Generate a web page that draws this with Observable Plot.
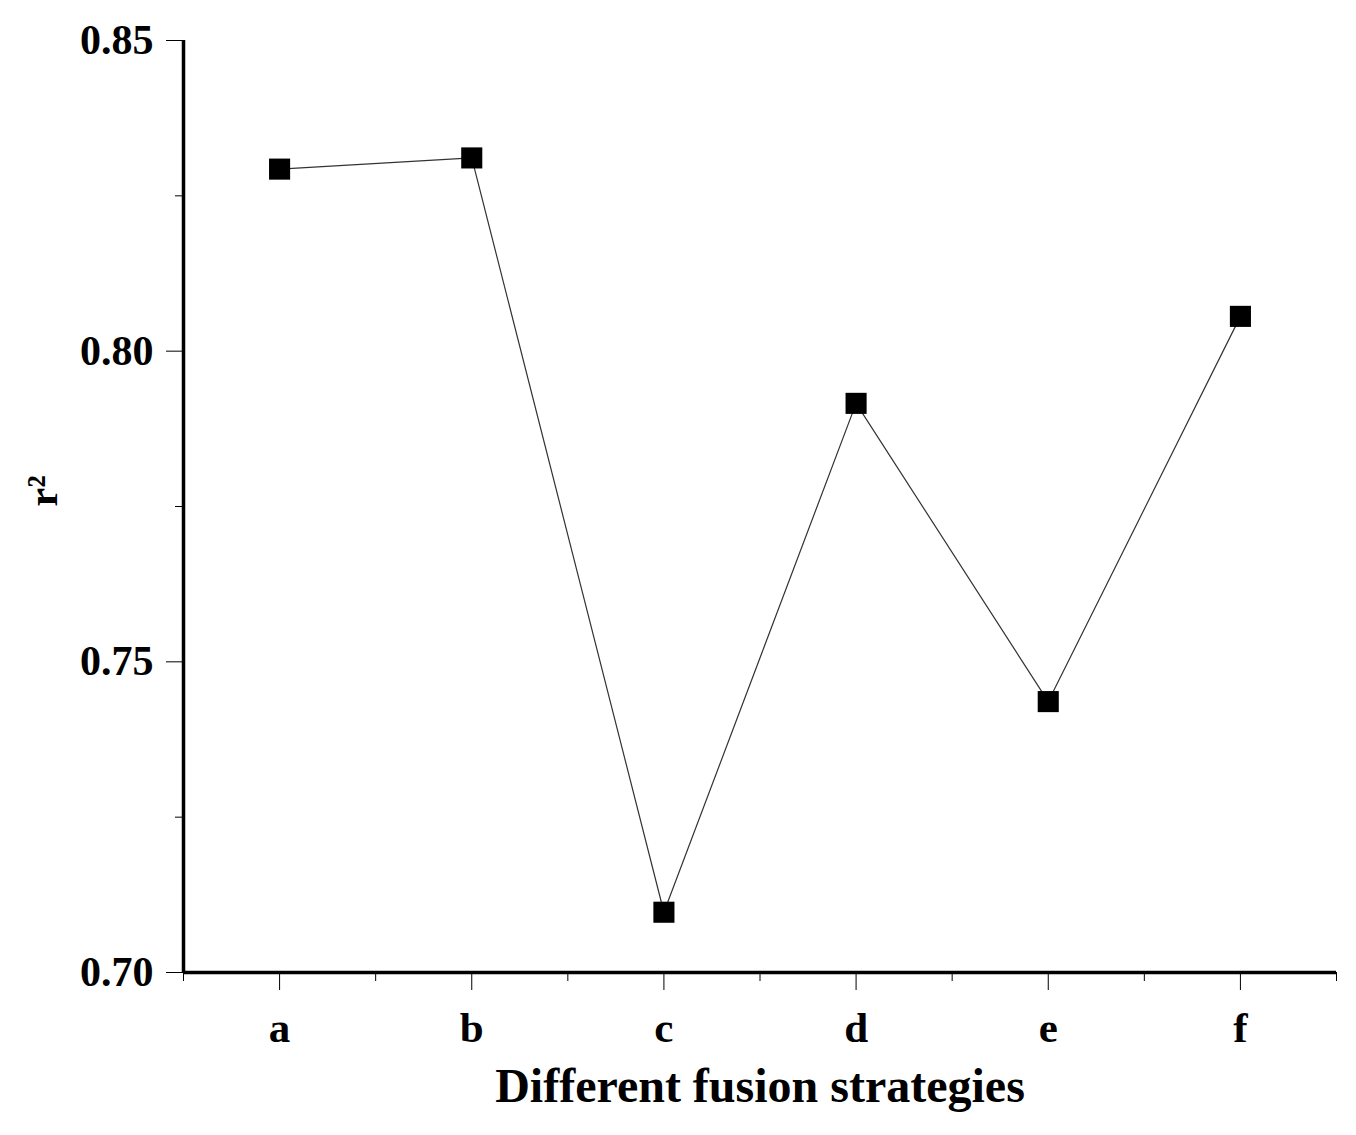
<!DOCTYPE html>
<html>
<head>
<meta charset="utf-8">
<script src="https://cdn.jsdelivr.net/npm/d3@7"></script>
<script src="https://cdn.jsdelivr.net/npm/@observablehq/plot@0.6"></script>
<style>
  html, body { margin: 0; padding: 0; background: #fff; }
</style>
</head>
<body>
<div id="chart"></div>
<script>
const categories = ["a", "b", "c", "d", "e", "f"];
const r2Values = [0.8293, 0.8311, 0.7097, 0.7916, 0.7436, 0.8056];
const yMajorTicks = [0.70, 0.75, 0.80, 0.85];
const yMinorTicks = [0.725, 0.775, 0.825];
const xMajorTicks = [1, 2, 3, 4, 5, 6];
const xMinorTicks = [0.5, 1.5, 2.5, 3.5, 4.5, 5.5, 6.5];
const xTitle = "Different fusion strategies";
const yTitle = "r²";

const data = categories.map((c, i) => ({idx: i + 1, cat: c, r2: r2Values[i]}));

const chart = Plot.plot({
  width: 1356,
  height: 1135,
  marginLeft: 183,
  marginRight: 20,
  marginTop: 40,
  marginBottom: 163,
  style: {fontFamily: "'Liberation Serif', 'Times New Roman', serif", fontSize: "42px", fontWeight: "bold", color: "#000", background: "#fff"},
  x: {type: "linear", domain: [0.5, 6.5]},
  y: {domain: [0.70, 0.85]},
  marks: [
    Plot.axisY({ticks: yMajorTicks, tickSize: 17, tickPadding: 13, tickWidth: 2.5, tickFormat: d => d.toFixed(2), label: null, stroke: "#000", fill: "#000", fontSize: 42}),
    Plot.axisY({ticks: yMinorTicks, tickSize: 8, tickWidth: 2.5, tickFormat: () => "", label: null, stroke: "#000"}),
    Plot.axisX({ticks: xMajorTicks, tickSize: 18, tickPadding: 21, tickWidth: 2.5, tickFormat: d => categories[d - 1], label: null, stroke: "#000", fill: "#000", fontSize: 43}),
    Plot.axisX({ticks: xMinorTicks, tickSize: 9, tickWidth: 2.5, tickFormat: () => "", label: null, stroke: "#000"}),
    Plot.ruleX([0.5], {stroke: "#000", strokeWidth: 3.5, y1: 0.70, y2: 0.85}),
    Plot.ruleY([0.70], {stroke: "#000", strokeWidth: 3.5, x1: 0.5, x2: 6.5}),
    Plot.line(data, {x: "idx", y: "r2", stroke: "#333", strokeWidth: 1.2}),
    Plot.dot(data, {x: "idx", y: "r2", symbol: "square", r: 11.9, fill: "#000", stroke: "none"}),
    Plot.text([xTitle], {frameAnchor: "bottom", dy: 129, fontSize: 48, fontWeight: "bold", fill: "#000"}),
    Plot.text([yTitle], {frameAnchor: "left", dx: -140, rotate: -90, fontSize: 42, fontWeight: "bold", fill: "#000"})
  ]
});
document.getElementById("chart").appendChild(chart);
</script>
</body>
</html>
